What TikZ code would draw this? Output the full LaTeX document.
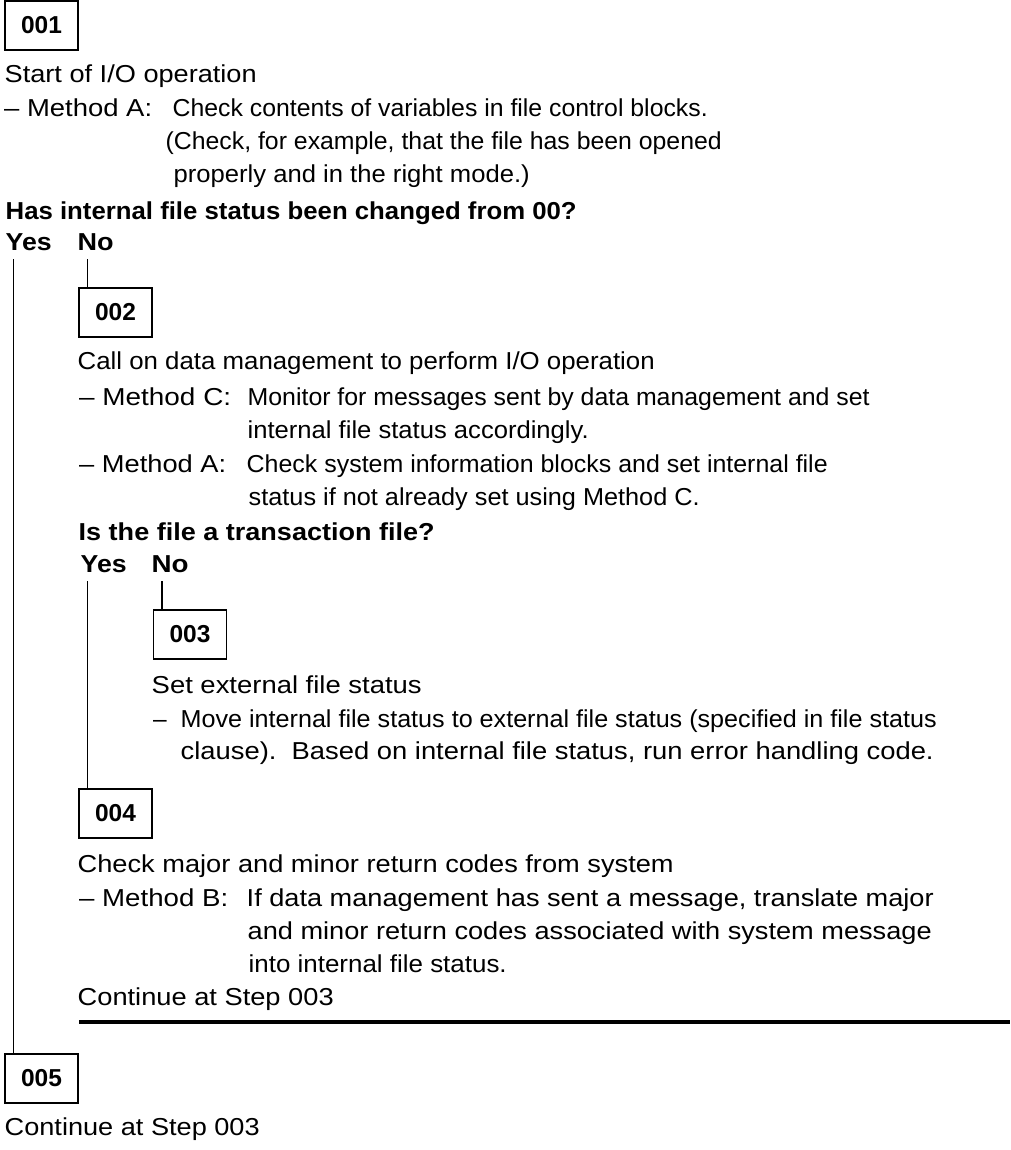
\documentclass[tikz,border=0pt]{standalone}
\usepackage{fontspec}
\usepackage{graphicx}
\setmainfont{Liberation Sans}
% set a line of text to a given width, keeping its height
\newcommand{\wfit}[2]{\resizebox{#1pt}{\height}{#2}}
\begin{document}
\begin{tikzpicture}[x=1pt,y=-1pt,
  txt/.style={anchor=base west, inner sep=0pt, font=\fontsize{24.5}{33}\selectfont},
  btxt/.style={txt, font=\bfseries\fontsize{24.5}{33}\selectfont},
  stepbox/.style={draw, line width=1.3pt, minimum width=73pt, minimum height=49pt,
                  inner sep=0pt, font=\bfseries\fontsize{24.5}{33}\selectfont},
  link/.style={draw, line width=1.1pt},
  sectionrule/.style={draw, line width=4pt}]
\useasboundingbox (0,0) rectangle (1010,1150);

% ---- step 001 ----
\node[stepbox] (s001) at (41.5,25.5) {001};
\node[txt] (t001) at (4.5,83) {\wfit{252}{Start of I/O operation}};
\node[txt] (m001) at (4,117) {\wfit{148}{– Method A:}};
\node[txt] (m001a) at (172.5,117) {\wfit{535}{Check contents of variables in file control blocks.}};
\node[txt] (m001b) at (165.5,150) {\wfit{556}{(Check, for example, that the file has been opened}};
\node[txt] (m001c) at (173.5,183) {\wfit{356}{properly and in the right mode.)}};
\node[btxt] (q001) at (5.5,219) {\wfit{571}{Has internal file status been changed from 00?}};
\node[btxt] (yes1) at (5.5,251) {\wfit{46}{Yes}};
\node[btxt] (no1) at (77.5,251) {\wfit{36}{No}};

% ---- step 002 ----
\node[stepbox] (s002) at (115.5,312.5) {002};
\node[txt] (t002) at (77.5,369) {\wfit{577}{Call on data management to perform I/O operation}};
\node[txt] (m002) at (79,405) {\wfit{152}{– Method C:}};
\node[txt] (m002a) at (247.5,405) {\wfit{622}{Monitor for messages sent by data management and set}};
\node[txt] (m002b) at (247.5,438) {\wfit{341}{internal file status accordingly.}};
\node[txt] (m002c) at (79,472) {\wfit{147}{– Method A:}};
\node[txt] (m002d) at (246.5,472) {\wfit{581}{Check system information blocks and set internal file}};
\node[txt] (m002e) at (248.5,505) {\wfit{451}{status if not already set using Method C.}};
\node[btxt] (q002) at (78.5,540) {\wfit{356}{Is the file a transaction file?}};
\node[btxt] (yes2) at (80.5,572) {\wfit{46}{Yes}};
\node[btxt] (no2) at (151.5,572) {\wfit{37}{No}};

% ---- step 003 ----
\node[stepbox] (s003) at (190,634.5) {003};
\node[txt] (t003) at (151.5,693) {\wfit{270}{Set external file status}};
\node[txt] (d003) at (153,727) {–};
\node[txt] (m003a) at (180.5,727) {\wfit{756}{Move internal file status to external file status (specified in file status}};
\node[txt] (m003b) at (180.5,759) {\wfit{753}{clause).\ \ Based on internal file status, run error handling code.}};

% ---- step 004 ----
\node[stepbox] (s004) at (115.5,813.5) {004};
\node[txt] (t004) at (77.5,872) {\wfit{596}{Check major and minor return codes from system}};
\node[txt] (m004) at (79,906) {\wfit{149}{– Method B:}};
\node[txt] (m004a) at (246.5,906) {\wfit{687}{If data management has sent a message, translate major}};
\node[txt] (m004b) at (247.5,939) {\wfit{684}{and minor return codes associated with system message}};
\node[txt] (m004c) at (248.5,972) {\wfit{258}{into internal file status.}};
\node[txt] (c004) at (77.5,1005) {\wfit{256}{Continue at Step 003}};

% ---- step 005 ----
\node[stepbox] (s005) at (41.5,1078.5) {005};
\node[txt] (c005) at (4.5,1135) {\wfit{255}{Continue at Step 003}};

% ---- branch lines ----
\coordinate (yes1top) at (13.3,259);
\coordinate (no1top) at (87.7,259);
\coordinate (yes2top) at (87.7,581);
\coordinate (no2top) at (162,581);
\draw[link] (yes1top) -- (yes1top |- s005.north);
\draw[link] (no1top) -- (no1top |- s002.north);
\draw[link] (yes2top) -- (yes2top |- s004.north);
\draw[link] (no2top) -- (no2top |- s003.north);

% ---- end of the No branch ----
\coordinate (ruleL) at (79,1022);
\coordinate (ruleR) at (1010,1022);
\draw[sectionrule] (ruleL) -- (ruleR);
\end{tikzpicture}
\end{document}
